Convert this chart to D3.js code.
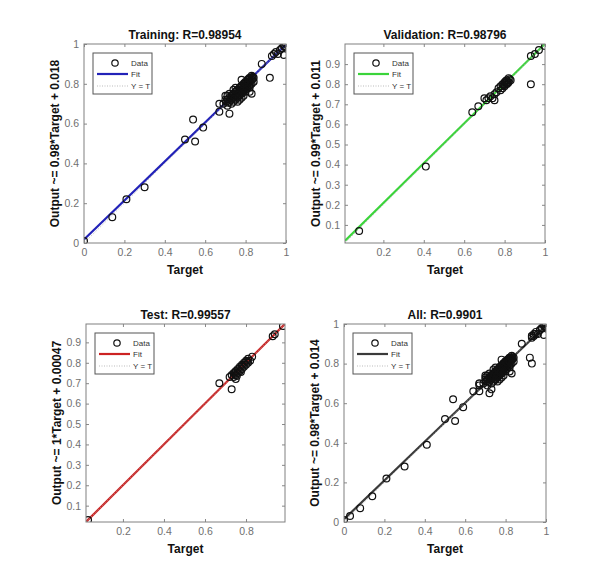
<!DOCTYPE html>
<html>
<head>
<meta charset="utf-8">
<script src="https://cdn.jsdelivr.net/npm/d3@7"></script>
<style>
  html, body { margin: 0; padding: 0; background: #fff; }
  svg { display: block; }
  text { font-family: "Liberation Sans", Arial, sans-serif; }
</style>
</head>
<body>
<svg id="chart" width="597" height="586"></svg>
<script>
// ---------- data ----------
const trainingPoints = [
  [0.00,0.01],[0.14,0.13],[0.21,0.22],[0.30,0.28],[0.50,0.52],[0.54,0.62],[0.55,0.51],[0.59,0.58],
  [0.67,0.66],[0.67,0.70],[0.69,0.70],[0.70,0.74],[0.72,0.65],[0.71,0.69],
  [0.71,0.72],[0.72,0.71],[0.72,0.73],[0.73,0.72],[0.73,0.74],[0.73,0.70],[0.74,0.73],[0.74,0.75],
  [0.74,0.71],[0.75,0.74],[0.75,0.76],[0.75,0.72],[0.76,0.75],[0.76,0.77],[0.76,0.73],[0.76,0.74],
  [0.77,0.76],[0.77,0.78],[0.77,0.74],[0.77,0.75],[0.78,0.77],[0.78,0.79],[0.78,0.75],[0.78,0.76],
  [0.78,0.82],[0.79,0.78],[0.79,0.80],[0.79,0.76],[0.79,0.77],[0.80,0.79],[0.80,0.81],[0.80,0.77],
  [0.80,0.78],[0.80,0.80],[0.81,0.80],[0.81,0.82],[0.81,0.78],[0.81,0.79],[0.81,0.81],[0.82,0.81],
  [0.82,0.83],[0.82,0.79],[0.82,0.82],[0.82,0.78],[0.83,0.82],[0.83,0.84],[0.83,0.80],[0.83,0.75],
  [0.84,0.83],[0.84,0.81],[0.75,0.78],[0.74,0.77],[0.72,0.75],[0.71,0.74],[0.70,0.72],[0.76,0.71],
  [0.79,0.74],[0.80,0.76],[0.82,0.76],[0.78,0.73],[0.77,0.72],
  [0.725,0.725],[0.735,0.745],[0.745,0.74],[0.755,0.75],[0.765,0.76],[0.775,0.77],[0.785,0.78],
  [0.795,0.79],[0.805,0.80],[0.815,0.81],[0.825,0.815],[0.835,0.825],[0.745,0.725],[0.765,0.745],
  [0.785,0.765],[0.805,0.785],[0.825,0.80],[0.755,0.765],[0.775,0.785],[0.795,0.805],[0.815,0.825],
  [0.705,0.71],[0.715,0.705],[0.835,0.835],
  [0.88,0.90],[0.92,0.83],[0.93,0.94],[0.94,0.95],[0.95,0.96],[0.96,0.95],[0.97,0.97],[0.98,0.98],
  [0.99,0.99],[1.00,1.00],[0.99,0.945],[0.995,0.985]
];
const validationPoints = [
  [0.08,0.07],[0.41,0.39],[0.64,0.66],[0.67,0.69],[0.70,0.73],[0.71,0.72],[0.72,0.73],[0.73,0.74],
  [0.74,0.73],[0.75,0.72],[0.75,0.75],[0.76,0.76],[0.77,0.78],[0.78,0.77],[0.78,0.79],[0.79,0.78],
  [0.79,0.80],[0.80,0.79],[0.80,0.81],[0.81,0.80],[0.81,0.82],[0.82,0.81],[0.82,0.83],[0.83,0.82],
  [0.81,0.81],[0.80,0.80],[0.805,0.815],[0.815,0.805],[0.825,0.825],[0.795,0.795],
  [0.93,0.80],[0.93,0.94],[0.95,0.95],[0.97,0.97],[1.00,0.99]
];
const testPoints = [
  [0.03,0.03],[0.67,0.70],[0.73,0.67],[0.72,0.73],[0.73,0.74],[0.74,0.75],[0.74,0.73],[0.75,0.74],
  [0.75,0.76],[0.76,0.75],[0.76,0.77],[0.77,0.76],[0.77,0.78],[0.78,0.77],[0.78,0.79],[0.79,0.78],
  [0.79,0.80],[0.80,0.79],[0.80,0.81],[0.81,0.80],[0.81,0.82],[0.82,0.81],[0.83,0.83],[0.75,0.72],
  [0.745,0.745],[0.765,0.765],[0.785,0.785],[0.805,0.805],[0.755,0.735],[0.775,0.755],
  [0.93,0.93],[0.94,0.94],[0.98,0.98]
];
const allPoints = trainingPoints.concat(validationPoints, testPoints);

const panelTitles = ["Training: R=0.98954", "Validation: R=0.98796", "Test: R=0.99557", "All: R=0.9901"];
const yLabels = ["Output ~= 0.98*Target + 0.018", "Output ~= 0.99*Target + 0.011",
                 "Output ~= 1*Target + 0.00047", "Output ~= 0.98*Target + 0.014"];
const fitSlopes = [0.98, 0.99, 1, 0.98];
const fitIntercepts = [0.018, 0.011, 0.00047, 0.014];
const fitColors = ["#2222b8", "#3ad43a", "#cc2222", "#3a3a3a"];
const domains = [[0, 1], [0.01, 1.0], [0.02, 0.99], [0, 1]];
const xTicks = [[0,0.2,0.4,0.6,0.8,1],[0.2,0.4,0.6,0.8,1],[0.2,0.4,0.6,0.8],[0,0.2,0.4,0.6,0.8,1]];
const yTicks = [[0,0.2,0.4,0.6,0.8,1],[0.1,0.2,0.3,0.4,0.5,0.6,0.7,0.8,0.9],
                [0.1,0.2,0.3,0.4,0.5,0.6,0.7,0.8,0.9],[0,0.2,0.4,0.6,0.8,1]];
const legendLabels = ["Data", "Fit", "Y = T"];
const pointSets = [trainingPoints, validationPoints, testPoints, allPoints];

// ---------- layout ----------
const boxes = [
  {x0: 84, x1: 286, y0: 44, y1: 243},
  {x0: 345, x1: 545, y0: 44, y1: 243},
  {x0: 86, x1: 285, y0: 324, y1: 522},
  {x0: 344, x1: 546, y0: 324, y1: 522}
];

const svg = d3.select("#chart");
const fmt = d => (d === 0 ? "0" : d === 1 ? "1" : d3.format(".1f")(d));

boxes.forEach((b, i) => {
  const x = d3.scaleLinear().domain(domains[i]).range([b.x0, b.x1]);
  const y = d3.scaleLinear().domain(domains[i]).range([b.y1, b.y0]);
  const g = svg.append("g");

  g.append("rect").attr("x", b.x0).attr("y", b.y0)
    .attr("width", b.x1 - b.x0).attr("height", b.y1 - b.y0)
    .attr("fill", "#fff");

  const clipId = "clip" + i;
  svg.append("clipPath").attr("id", clipId).append("rect")
    .attr("x", b.x0).attr("y", b.y0).attr("width", b.x1 - b.x0).attr("height", b.y1 - b.y0);

  const plot = g.append("g").attr("clip-path", `url(#${clipId})`);

  const d0 = domains[i][0], d1 = domains[i][1];
  const fitLine = d3.line().x(d => x(d[0])).y(d => y(d[1]));
  plot.append("path")
    .attr("d", fitLine([[d0, fitSlopes[i]*d0 + fitIntercepts[i]], [d1, fitSlopes[i]*d1 + fitIntercepts[i]]]))
    .attr("stroke", fitColors[i]).attr("stroke-width", 2.2).attr("fill", "none");
  plot.append("path")
    .attr("d", fitLine([[d0, d0], [d1, d1]]))
    .attr("stroke", "#aaa").attr("stroke-width", 0.8).attr("stroke-dasharray", "1,1.5").attr("fill", "none");

  plot.selectAll("circle.pt").data(pointSets[i]).enter().append("circle")
    .attr("class", "pt")
    .attr("cx", d => x(d[0])).attr("cy", d => y(d[1])).attr("r", 3.4)
    .attr("fill", "none").attr("stroke", "#111").attr("stroke-width", 1.2);

  const axB = d3.axisBottom(x).tickValues(xTicks[i]).tickFormat(fmt).tickSizeInner(-3).tickSizeOuter(0).tickPadding(6);
  const axL = d3.axisLeft(y).tickValues(yTicks[i]).tickFormat(fmt).tickSizeInner(-3).tickSizeOuter(0).tickPadding(5);
  const axT = d3.axisTop(x).tickValues(xTicks[i]).tickFormat("").tickSizeInner(-3).tickSizeOuter(0);
  const axR = d3.axisRight(y).tickValues(yTicks[i]).tickFormat("").tickSizeInner(-3).tickSizeOuter(0);

  [[axB, `translate(0,${b.y1})`], [axL, `translate(${b.x0},0)`],
   [axT, `translate(0,${b.y0})`], [axR, `translate(${b.x1},0)`]].forEach(([ax, tr]) => {
    const a = g.append("g").attr("transform", tr).call(ax);
    a.select(".domain").remove();
    a.selectAll("line").attr("stroke", "#888");
    a.selectAll("text").attr("fill", "#707070").style("font-size", "10.5px")
      .style("font-family", "'Liberation Sans', Arial, sans-serif");
  });

  g.append("rect").attr("x", b.x0).attr("y", b.y0)
    .attr("width", b.x1 - b.x0).attr("height", b.y1 - b.y0)
    .attr("fill", "none").attr("stroke", "#808080").attr("stroke-width", 1);

  g.append("text").attr("x", (b.x0 + b.x1) / 2).attr("y", b.y0 - 5)
    .attr("text-anchor", "middle").style("font-size", "12px").style("font-weight", "bold")
    .attr("fill", "#111").text(panelTitles[i]);
  g.append("text").attr("x", (b.x0 + b.x1) / 2).attr("y", b.y1 + 31)
    .attr("text-anchor", "middle").style("font-size", "12px").style("font-weight", "bold")
    .attr("fill", "#111").text("Target");
  const cy = (b.y0 + b.y1) / 2;
  g.append("text").attr("transform", `translate(${b.x0 - 25},${cy}) rotate(-90)`)
    .attr("text-anchor", "middle").style("font-size", "12px").style("font-weight", "bold")
    .attr("fill", "#111").text(yLabels[i]);

  const lx = b.x0 + 9, ly = b.y0 + 9, lw = 59, lh = 41;
  const lg = g.append("g");
  lg.append("rect").attr("x", lx).attr("y", ly).attr("width", lw).attr("height", lh)
    .attr("fill", "#fff").attr("stroke", "#555").attr("stroke-width", 1);
  const rows = [10, 21, 33];
  lg.append("circle").attr("cx", lx + 22).attr("cy", ly + rows[0]).attr("r", 3.2)
    .attr("fill", "none").attr("stroke", "#111").attr("stroke-width", 1.2);
  lg.append("line").attr("x1", lx + 4).attr("x2", lx + 35).attr("y1", ly + rows[1]).attr("y2", ly + rows[1])
    .attr("stroke", fitColors[i]).attr("stroke-width", 2.2);
  lg.append("line").attr("x1", lx + 4).attr("x2", lx + 35).attr("y1", ly + rows[2]).attr("y2", ly + rows[2])
    .attr("stroke", "#aaa").attr("stroke-width", 0.8).attr("stroke-dasharray", "1,1.5");
  legendLabels.forEach((t, k) => {
    lg.append("text").attr("x", lx + 38).attr("y", ly + rows[k] + 3)
      .style("font-size", "8px").attr("fill", "#333").text(t);
  });
});
</script>
</body>
</html>
